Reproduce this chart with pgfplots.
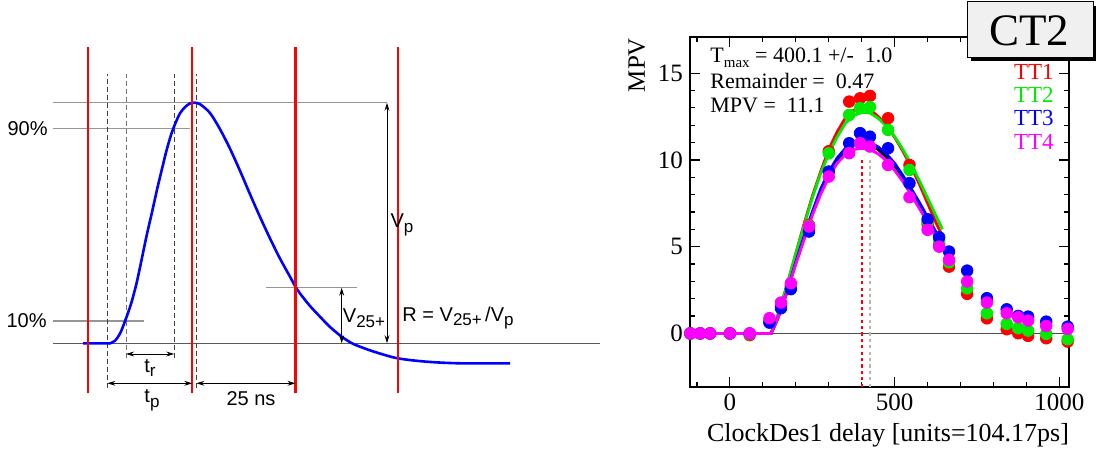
\documentclass[border=0pt]{standalone}
\usepackage{pgfplots}
\pgfplotsset{compat=1.18}
\usepackage{fontspec}
\setmainfont{Liberation Serif}
\newfontfamily\lsans{Liberation Sans}
\usetikzlibrary{arrows.meta}
\definecolor{tgreen}{RGB}{0,235,0}
\definecolor{tred}{RGB}{255,0,0}
\definecolor{tblue}{RGB}{0,0,255}
\definecolor{tmag}{RGB}{255,0,255}
\definecolor{tgray}{RGB}{190,180,170}
\definecolor{hgray}{RGB}{150,150,150}
\newcommand{\sub}[1]{\raisebox{-0.45ex}{\fontsize{7.5}{8}\selectfont #1}}
\newcommand{\lsub}[1]{\raisebox{-0.45ex}{\fontsize{8.5}{9}\selectfont #1}}
\newcommand{\lf}{\lsans\fontsize{10}{12}\selectfont}
\begin{document}
\begin{tikzpicture}
\useasboundingbox (0,0) rectangle (548.5pt,225pt);
% ---------------- left panel: pulse schematic ----------------
\begin{axis}[at={(0,0)}, anchor=south west, x=0.5pt, y=0.5pt,
  xmin=0, xmax=620, ymin=0, ymax=450, axis lines=none, clip=false]
% horizontal reference lines
\draw[hgray, line width=0.7pt] (53,347.3) -- (387,347.3);
\draw[hgray, line width=0.7pt] (53,321.7) -- (190,321.7);
\draw[hgray, line width=0.6pt] (53,129) -- (144,129);
\draw[hgray, line width=0.7pt] (266,162.3) -- (357,162.3);
\draw[black!65, line width=0.5pt] (53,106.7) -- (600,106.7);
% dashed markers
\draw[black!75, line width=0.4pt, dash pattern=on 2.5pt off 1.5pt] (107.3,62) -- (107.3,376);
\draw[black!55, line width=0.4pt, dash pattern=on 2.5pt off 1.5pt] (126,92) -- (126,376);
\draw[black!75, line width=0.4pt, dash pattern=on 2.5pt off 1.5pt] (174.3,92) -- (174.3,376);
\draw[black!75, line width=0.4pt, dash pattern=on 2.5pt off 1.5pt] (196.3,62) -- (196.3,376);
% pulse
\addplot[tblue, line width=1.3pt, smooth] coordinates {
(83,106.7) (107,106.7) (110,106.7) (115,109.3) (120,116.4) (125,128.8)
(131,146) (136.5,166.6) (141.5,189.8) (146.5,213.8) (152,237.8) (157,260.3)
(162,281.2) (166.5,299.4) (171,315) (175.5,327) (180,336.7) (185,342.9)
(190,346.6) (194.5,347.3) (200,345.8) (210,337) (220,320.8) (230,301.3)
(240,279.2) (250,255.8) (260,233.1) (270,211.6) (280,191.4) (290,173.3)
(296,162.3) (300,156.5) (310,144) (320,133.3) (330,123) (341.7,113.3)
(352,106.7) (360,103.3) (375,98) (397.7,91.7) (426.7,88.3) (460,86.7) (510,86.7)};
% red lines
\draw[tred, line width=1.1pt] (88,57) -- (88,403);
\draw[tred, line width=1.1pt] (192.3,57) -- (192.3,403);
\draw[tred, line width=1.1pt] (295.5,57) -- (295.5,403);
\draw[tred, line width=1.1pt] (398,57) -- (398,403);
% arrows
\draw[black, line width=0.45pt, {Stealth[length=4pt,width=2.4pt]}-{Stealth[length=4pt,width=2.4pt]}] (387,106.7) -- (387,347.3);
\draw[black, line width=0.45pt, {Stealth[length=4pt,width=2.4pt]}-{Stealth[length=4pt,width=2.4pt]}] (341.7,106.7) -- (341.7,162.3);
\draw[black, line width=0.45pt, {Stealth[length=4pt,width=2.4pt]}-{Stealth[length=4pt,width=2.4pt]}] (126,96) -- (174.3,96);
\draw[black, line width=0.45pt, {Stealth[length=4pt,width=2.4pt]}-{Stealth[length=4pt,width=2.4pt]}] (107.3,66.7) -- (192.3,66.7);
\draw[black, line width=0.45pt, {Stealth[length=4pt,width=2.4pt]}-{Stealth[length=4pt,width=2.4pt]}] (196.3,66.7) -- (295.5,66.7);
% labels
\node[anchor=east, inner sep=0pt, font=\lf] at (48,321.7) {90\%};
\node[anchor=east, inner sep=0pt, font=\lf] at (47,129) {10\%};
\node[inner sep=0pt, font=\lf] at (150,82) {t\lsub{r}};
\node[inner sep=0pt, font=\lf] at (152,50) {t\lsub{p}};
\node[inner sep=0pt, font=\lf] at (251,51.7) {25 ns};
\node[inner sep=0pt, font=\lf] at (402,225) {V\lsub{p}};
\node[inner sep=0pt, font=\lf] at (364,132) {V\lsub{25+}};
\node[inner sep=0pt, font=\lf] at (458,132) {R = V\lsub{25+}\,/V\lsub{p}};
\end{axis}
% ---------------- right panel: MPV vs delay ----------------
\begin{axis}[at={(345pt,31.65pt)}, anchor=south west, width=189.65pt, height=175pt,
  scale only axis, xmin=-121, xmax=1030, ymin=-3.07, ymax=17.1,
  xtick={0,500,1000}, minor xtick={-100,100,200,300,400,600,700,800,900},
  ytick={0,5,10,15}, minor y tick num=4,
  xtick pos=both, ytick pos=both, tick align=inside,
  major tick length=5pt, minor tick length=2.5pt,
  axis line style={line width=0.9pt}, tick style={black, line width=0.6pt},
  /pgf/number format/assume math mode=true,
  /pgf/number format/1000 sep={},
  tick label style={font=\fontsize{12.5}{14}\selectfont},
  xlabel={ClockDes1 delay [units=104.17ps]}, ylabel={MPV},
  every axis x label/.style={at={(axis description cs:0.522,-0.138)}, anchor=center, font=\fontsize{13}{15}\selectfont},
  every axis y label/.style={at={(axis description cs:-0.14,0.919)}, rotate=90, anchor=center, font=\fontsize{12.5}{15}\selectfont},
  clip=false]
\draw[black!70, line width=0.8pt] (-121,0) -- (1030,0);
\draw[tred, line width=1.2pt, dash pattern=on 1.6pt off 1.6pt] (400.1,-3.07) -- (400.1,10.1);
\draw[tgray, line width=1.2pt, dash pattern=on 1.6pt off 1.6pt] (425,-3.07) -- (425,10.2);
% red TT1
\addplot[only marks, mark=*, mark size=2.9pt, tred, mark options={draw=none, fill=tred}] coordinates {
(-120,0) (-90,0) (-60,0) (0,0) (60,-0.1) (120,0.7) (155,1.6) (185,2.75) (240,6.25) (300,10.5)
(362,13.36) (395,13.55) (425,13.69) (480,12.4) (545,9.71) (600,6.3) (635,5.2) (665,3.85)
(720,2.28) (780,0.87) (840,0.24) (875,0.01) (905,-0.14) (960,-0.28) (1025,-0.47)};
\addplot[tred, line width=1.4pt] coordinates {
(-120,0) (125,0) (137,0.6) (150,1.3) (175,2.9) (200,4.6) (225,6.3) (250,7.9) (275,9.3) (300,10.6)
(325,11.6) (350,12.4) (375,12.85) (400,13.0) (425,12.9) (450,12.5) (475,12.0) (500,11.3)
(525,10.5) (550,9.6) (575,8.6) (600,7.5) (625,6.4) (640,5.8)};
% green TT2
\addplot[only marks, mark=*, mark size=2.9pt, tgreen, mark options={draw=none, fill=tgreen}] coordinates {
(-120,0) (-90,0) (-60,0) (0,0) (60,-0.05) (120,0.7) (155,1.6) (185,2.75) (240,6.2) (300,10.38)
(362,12.59) (395,12.98) (425,13.04) (480,11.73) (545,9.42) (600,6.45) (635,5.35) (665,4.1)
(720,2.6) (780,1.16) (840,0.55) (875,0.3) (905,0.16) (960,-0.03) (1025,-0.33)};
\addplot[tgreen, line width=1.4pt] coordinates {
(-120,0) (125,0) (137,0.6) (150,1.3) (175,2.9) (200,4.6) (225,6.2) (250,7.8) (275,9.2) (300,10.35)
(325,11.3) (350,12.1) (375,12.55) (400,12.75) (425,12.7) (450,12.4) (475,11.95) (500,11.35)
(525,10.6) (550,9.75) (575,8.8) (600,7.8) (625,6.8) (645,6.0)};
% black combined fit
\addplot[black, line width=1.4pt] coordinates {
(-120,0) (125,0) (137,0.5) (150,1.1) (175,2.5) (200,4.05) (225,5.5) (250,6.9) (275,8.15) (300,9.15)
(325,9.95) (350,10.5) (375,10.85) (400,10.96) (425,10.9) (450,10.6) (475,10.15) (500,9.6)
(525,8.9) (550,8.15) (575,7.35) (600,6.5) (625,5.65) (645,5.0)};
% blue TT3
\addplot[only marks, mark=*, mark size=2.9pt, tblue, mark options={draw=none, fill=tblue}] coordinates {
(-120,0) (-90,0) (-60,0) (0,0) (60,0) (120,0.62) (155,1.45) (185,2.55) (240,5.87) (300,9.33)
(362,10.96) (395,11.54) (425,11.34) (480,10.67) (545,8.66) (600,6.58) (635,5.54) (665,4.72)
(720,3.62) (780,2.03) (840,1.39) (875,1.01) (905,0.97) (960,0.68) (1025,0.39)};
\addplot[tblue, line width=1.4pt] coordinates {
(-120,0) (125,0) (137,0.5) (150,1.1) (175,2.5) (200,4.1) (225,5.6) (250,7.0) (275,8.3) (300,9.3)
(325,10.1) (350,10.65) (375,10.95) (400,11.05) (425,11.0) (450,10.75) (475,10.35) (500,9.8)
(525,9.1) (550,8.35) (575,7.55) (600,6.7) (625,5.85) (645,5.2)};
% magenta TT4
\addplot[only marks, mark=*, mark size=2.9pt, tmag, mark options={draw=none, fill=tmag}] coordinates {
(-120,0) (-90,0) (-60,0) (0,0) (60,0) (120,0.88) (155,1.78) (185,2.89) (240,6.16) (300,9.04)
(362,10.39) (395,10.96) (425,10.77) (480,9.71) (545,7.85) (600,5.97) (635,5.0) (665,4.24)
(720,2.99) (780,1.78) (840,1.16) (875,0.93) (905,0.74) (960,0.43) (1025,0.26)};
\addplot[tmag, line width=1.4pt] coordinates {
(-120,0) (125,0) (137,0.5) (150,1.1) (175,2.5) (200,4.0) (225,5.4) (250,6.8) (275,8.0) (300,9.0)
(325,9.8) (350,10.3) (375,10.6) (400,10.67) (425,10.6) (450,10.35) (475,9.95) (500,9.4)
(525,8.75) (550,8.0) (575,7.2) (600,6.4) (625,5.55) (640,5.05)};
\end{axis}
% ---------------- annotations in pixel coordinates ----------------
\begin{scope}[x=0.5pt, y=-0.5pt, yshift=225pt]
\node[anchor=west, inner sep=0pt, font=\fontsize{11}{13}\selectfont] at (710,58) {T\sub{max} = 400.1 +/-\ \ 1.0};
\node[anchor=west, inner sep=0pt, font=\fontsize{11}{13}\selectfont] at (710,81.5) {Remainder =\ \ 0.47};
\node[anchor=west, inner sep=0pt, font=\fontsize{11}{13}\selectfont] at (710,105) {MPV =\ \ 11.1};
\node[anchor=east, inner sep=0pt, font=\fontsize{11.5}{13}\selectfont, text=tred] at (1054,71.5) {TT1};
\node[anchor=east, inner sep=0pt, font=\fontsize{11.5}{13}\selectfont, text=tgreen] at (1054,95) {TT2};
\node[anchor=east, inner sep=0pt, font=\fontsize{11.5}{13}\selectfont, text=tblue] at (1054,118.5) {TT3};
\node[anchor=east, inner sep=0pt, font=\fontsize{11.5}{13}\selectfont, text=tmag] at (1054,142) {TT4};
\fill[black] (971,6) rectangle (1096,61);
\draw[black, line width=0.5pt, fill=black!6] (967,2) rectangle (1093,58);
\node[inner sep=0pt, font=\fontsize{22.5}{26}\selectfont] at (1029,31) {CT2};
\end{scope}
\end{tikzpicture}
\end{document}
